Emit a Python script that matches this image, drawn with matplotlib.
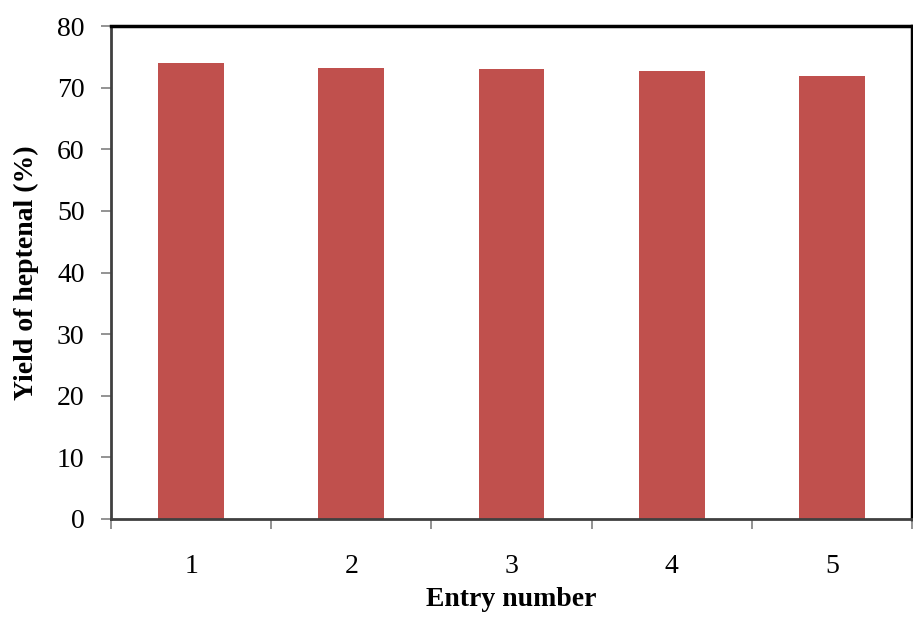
import numpy as np
import matplotlib
matplotlib.use("Agg")
import matplotlib.pyplot as plt

# Data
entries = ["1", "2", "3", "4", "5"]
yields = [74.0, 73.2, 73.1, 72.7, 71.9]

plt.rcParams['font.family'] = ['Liberation Serif', 'DejaVu Serif']

fig = plt.figure(figsize=(9.13, 6.21), dpi=100)
ax = fig.add_axes([111 / 913, 1 - 519 / 621, 801 / 913, 493 / 621])

x = np.arange(len(entries))
ax.bar(x, yields, width=0.41, color='#C0504D', zorder=2)

ax.set_xlim(-0.5, len(entries) - 0.5)
ax.set_ylim(0, 80)
ax.set_yticks(np.arange(0, 81, 10))
ax.set_xticks(x)
ax.set_xticklabels(entries)
ax.set_xticks(np.arange(-0.5, len(entries)), minor=True)

ax.tick_params(axis='x', which='major', length=0, pad=25, labelsize=20)
ax.tick_params(axis='x', which='minor', length=7, color='#808080', width=1.2)
ax.tick_params(axis='y', length=7, color='#808080', width=1.2, labelsize=20, pad=12)

for side in ['top', 'right']:
    ax.spines[side].set_color('black')
    ax.spines[side].set_linewidth(2.5)
ax.spines['left'].set_color('#404040')
ax.spines['left'].set_linewidth(2)
ax.spines['bottom'].set_color('#404040')
ax.spines['bottom'].set_linewidth(2)

ax.set_xlabel('Entry number', fontsize=20, fontweight='bold', labelpad=6)
ax.set_ylabel('Yield of heptenal (%)', fontsize=20, fontweight='bold', labelpad=13)

fig.savefig("out.png", dpi=100)
